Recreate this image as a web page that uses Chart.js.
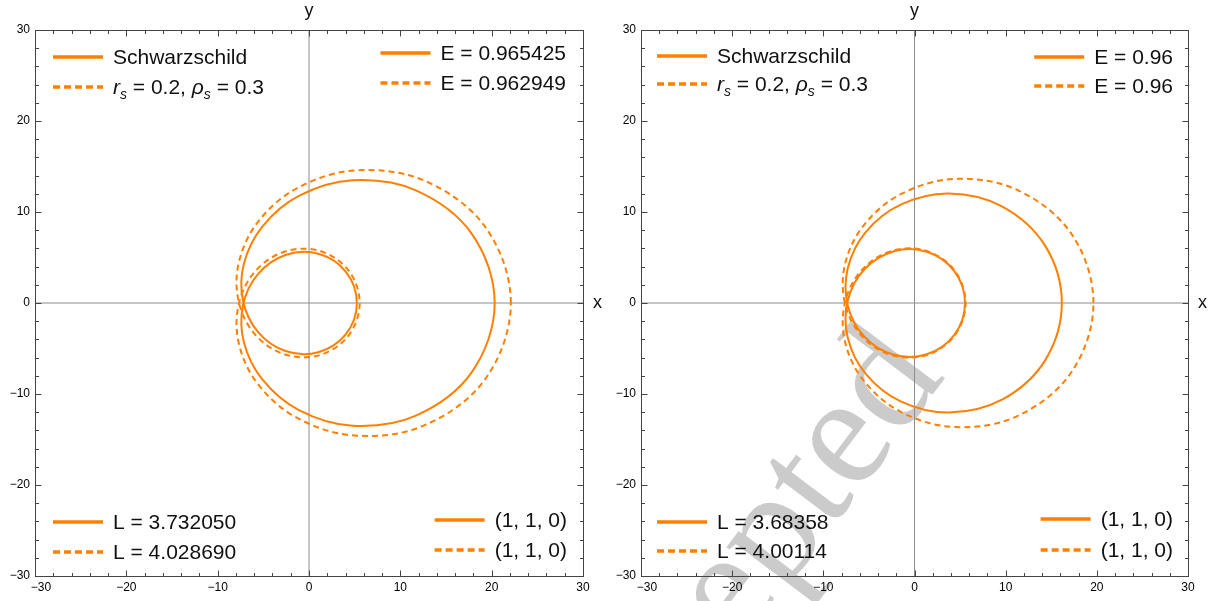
<!DOCTYPE html>
<html>
<head>
<meta charset="utf-8">
<script src="https://cdn.jsdelivr.net/npm/chart.js@4"></script>
<style>
  html, body { margin: 0; padding: 0; background: #fff; }
  #wrap { position: relative; width: 1218px; height: 601px; overflow: hidden; }
  canvas { position: absolute; top: 0; }
</style>
</head>
<body>
<div id="wrap">
  <canvas id="leftPanel" width="609" height="601" style="left:0"></canvas>
  <canvas id="rightPanel" width="609" height="601" style="left:609px"></canvas>
</div>
<script>
// ---- axes ----
const axisMin = -30;
const axisMax = 30;
const tickValues = [-30, -20, -10, 0, 10, 20, 30];
const minorStep = 2;

// ---- orbits, (x, y) points along each (1,1,0) zoom-whirl orbit ----
// first and last entries repeat the neighbours of the closing point so the curve closes smoothly
const leftSchwarzschild = [
  [17.81, -7.62],
  [20.33, 0], [17.81, 7.62], [11.71, 12.37], [4.76, 13.48], [-1.11, 11.76], [-5.11, 8.39],
  [-7.13, 4.31], [-7.22, 0.22], [-5.57, -3.20], [-2.57, -5.28], [1.02, -5.41], [4.04, -3.43],
  [5.24, 0],
  [4.04, 3.43], [1.02, 5.41], [-2.57, 5.28], [-5.57, 3.20], [-7.22, -0.22], [-7.13, -4.31],
  [-5.11, -8.39], [-1.11, -11.76], [4.76, -13.48], [11.71, -12.37], [17.81, -7.62], [20.33, 0],
  [17.81, 7.62]
];
const leftHalo = [
  [19.30, -8.35],
  [22.10, 0], [19.30, 8.35], [12.55, 13.48], [4.94, 14.56], [-1.38, 12.58], [-5.63, 8.86],
  [-7.69, 4.42], [-7.68, 0.06], [-5.84, -3.54], [-2.61, -5.66], [1.19, -5.72], [4.32, -3.59],
  [5.55, 0],
  [4.32, 3.59], [1.19, 5.72], [-2.61, 5.66], [-5.84, 3.54], [-7.68, -0.06], [-7.69, -4.42],
  [-5.63, -8.86], [-1.38, -12.58], [4.94, -14.56], [12.55, -13.48], [19.30, -8.35], [22.10, 0],
  [19.30, 8.35]
];
const rightSchwarzschild = [
  [14.31, -6.33],
  [16.16, 0], [14.31, 6.33], [9.59, 10.63], [3.78, 12.04], [-1.52, 10.81], [-5.35, 7.79],
  [-7.32, 3.82], [-7.32, -0.27], [-5.52, -3.68], [-2.34, -5.66], [1.35, -5.64], [4.37, -3.51],
  [5.54, 0],
  [4.37, 3.51], [1.35, 5.64], [-2.34, 5.66], [-5.52, 3.68], [-7.32, 0.27], [-7.32, -3.82],
  [-5.35, -7.79], [-1.52, -10.81], [3.78, -12.04], [9.59, -10.63], [14.31, -6.33], [16.16, 0],
  [14.31, 6.33]
];
const rightHalo = [
  [17.26, -7.53],
  [19.63, 0], [17.26, 7.53], [11.37, 12.38], [4.49, 13.64], [-1.47, 11.98], [-5.59, 8.51],
  [-7.63, 4.22], [-7.62, -0.08], [-5.77, -3.64], [-2.52, -5.72], [1.27, -5.74], [4.39, -3.59],
  [5.60, 0],
  [4.39, 3.59], [1.27, 5.74], [-2.52, 5.72], [-5.77, 3.64], [-7.62, 0.08], [-7.63, -4.22],
  [-5.59, -8.51], [-1.47, -11.98], [4.49, -13.64], [11.37, -12.38], [17.26, -7.53], [19.63, 0],
  [17.26, 7.53]
];

// ---- legend texts (solid row, dashed row) ----
// rich runs: '' plain, 'i' italic, 'sub' italic subscript
const haloLabel = [['r', 'i'], ['s', 'sub'], [' = 0.2, ', ''], ['\u03C1', 'i'], ['s', 'sub'], [' = 0.3', '']];
const modelLabels = ['Schwarzschild', haloLabel];
const energyLeft = ['E = 0.965425', 'E = 0.962949'];
const momentumLeft = ['L = 3.732050', 'L = 4.028690'];
const energyRight = ['E = 0.96', 'E = 0.96'];
const momentumRight = ['L = 3.68358', 'L = 4.00114'];
const orbitCodes = ['(1, 1, 0)', '(1, 1, 0)'];

// ---- styling ----
const ORANGE = '#ff8000';
const FAMILY = "'Liberation Sans', Arial, sans-serif";
const BASE_FONT = '21px ' + FAMILY;
const ITALIC_FONT = 'italic 21px ' + FAMILY;
const SUB_FONT = 'italic 14px ' + FAMILY;
const CANVAS_W = 609, CANVAS_H = 601;

const fmtTick = v => (v < 0 ? '\u2212' + (-v) : String(v));

function runsOf(label) { return typeof label === 'string' ? [[label, '']] : label; }
function fontFor(kind) { return kind === 'sub' ? SUB_FONT : (kind === 'i' ? ITALIC_FONT : BASE_FONT); }
function measureRuns(ctx, runs) {
  let w = 0;
  for (const [t, k] of runs) { ctx.font = fontFor(k); w += ctx.measureText(t).width; }
  return w;
}
function drawRuns(ctx, runs, x, baseline) {
  let cx = x;
  for (const [t, k] of runs) {
    ctx.font = fontFor(k);
    ctx.fillText(t, cx, baseline + (k === 'sub' ? 5 : 0));
    cx += ctx.measureText(t).width;
  }
}

function drawLegendBlock(ctx, area, block) {
  block.labels.forEach((label, i) => {
    const runs = runsOf(label);
    const y = block.rows[i];
    let x1, x2, tx;
    if (block.side === 'left') {
      x1 = area.left + block.inset; x2 = x1 + 50; tx = x2 + 10;
    } else {
      const w = measureRuns(ctx, runs);
      tx = area.right - block.inset - w; x2 = tx - 10; x1 = x2 - 50;
    }
    ctx.save();
    ctx.strokeStyle = ORANGE;
    ctx.lineWidth = 3.5;
    ctx.setLineDash(i === 1 ? [7, 4] : []);
    ctx.beginPath(); ctx.moveTo(x1, y); ctx.lineTo(x2, y); ctx.stroke();
    ctx.restore();
    ctx.fillStyle = '#111';
    ctx.textAlign = 'left';
    ctx.textBaseline = 'alphabetic';
    drawRuns(ctx, runs, tx, y + 7);
  });
}

function orbitDataset(points, dashed) {
  const last = points.length - 1;
  return {
    data: points.map(([x, y]) => ({ x, y })),
    showLine: true,
    pointRadius: 0,
    borderColor: ORANGE,
    borderWidth: 2,
    borderDash: dashed ? [6, 4] : [],
    tension: 0.35,
    segment: {
      borderColor: c => (c.p0DataIndex === 0 || c.p1DataIndex === last) ? 'rgba(0,0,0,0)' : ORANGE
    }
  };
}

function panelPlugin(panel) {
  return {
    id: 'panelDecor',
    beforeDraw(chart) {
      if (!panel.stamp) return;
      const ctx = chart.ctx, s = panel.stamp;
      ctx.save();
      ctx.translate(s.x, s.y);
      ctx.rotate(s.angle * Math.PI / 180);
      ctx.font = s.size + "px 'Liberation Serif', 'DejaVu Serif', serif";
      ctx.fillStyle = '#cbcbcb';
      ctx.textBaseline = 'alphabetic';
      ctx.fillText(s.text, 0, 0);
      ctx.restore();
    },
    beforeDatasetsDraw(chart) {
      const { ctx, chartArea: a, scales: { x, y } } = chart;
      const x0 = x.getPixelForValue(0), y0 = y.getPixelForValue(0);
      ctx.save();
      ctx.strokeStyle = '#8c8c8c';
      ctx.lineWidth = 1;
      ctx.beginPath();
      ctx.moveTo(x0, a.top); ctx.lineTo(x0, a.bottom);
      ctx.moveTo(a.left, y0); ctx.lineTo(a.right, y0);
      ctx.stroke();
      ctx.restore();
    },
    afterDatasetsDraw(chart) {
      const { ctx, chartArea: a, scales: { x, y } } = chart;
      ctx.save();
      // frame
      const L = Math.round(a.left) + 0.5, R = Math.round(a.right) + 0.5;
      const T = Math.round(a.top) + 0.5, B = Math.round(a.bottom) + 0.5;
      ctx.strokeStyle = '#444';
      ctx.lineWidth = 1;
      ctx.strokeRect(L, T, R - L, B - T);
      // inward ticks on all four sides
      ctx.beginPath();
      for (let v = axisMin; v <= axisMax; v += minorStep) {
        const len = v % 10 === 0 ? 6 : 3.5;
        const px = Math.round(x.getPixelForValue(v)) + 0.5;
        const py = Math.round(y.getPixelForValue(v)) + 0.5;
        ctx.moveTo(px, B); ctx.lineTo(px, B - len);
        ctx.moveTo(px, T); ctx.lineTo(px, T + len);
        ctx.moveTo(L, py); ctx.lineTo(L + len, py);
        ctx.moveTo(R, py); ctx.lineTo(R - len, py);
      }
      ctx.stroke();
      // axis names
      ctx.fillStyle = '#111';
      ctx.font = '18px ' + FAMILY;
      ctx.textBaseline = 'alphabetic';
      ctx.textAlign = 'center';
      ctx.fillText('y', x.getPixelForValue(0), a.top - 14);
      ctx.textAlign = 'left';
      ctx.fillText('x', a.right + 10, y.getPixelForValue(0) + 5);
      ctx.restore();
      // legends
      ctx.save();
      panel.legends.forEach(block => drawLegendBlock(ctx, a, block));
      ctx.restore();
    }
  };
}

function makePanel(canvasId, panel) {
  const area = panel.area;
  const tickFont = { family: FAMILY, size: 12 };
  const setTicks = s => { s.ticks = tickValues.map(v => ({ value: v })); };
  return new Chart(document.getElementById(canvasId), {
    type: 'scatter',
    data: { datasets: [orbitDataset(panel.orbits[0], false), orbitDataset(panel.orbits[1], true)] },
    options: {
      responsive: false,
      animation: false,
      devicePixelRatio: 1,
      events: [],
      layout: { padding: { left: 0, top: area.top, right: CANVAS_W - area.right, bottom: 0 } },
      plugins: { legend: { display: false }, tooltip: { enabled: false } },
      scales: {
        x: {
          type: 'linear', position: 'bottom', min: axisMin, max: axisMax,
          grid: { display: false, drawTicks: false }, border: { display: false },
          afterBuildTicks: setTicks,
          afterFit: s => { s.height = CANVAS_H - area.bottom; },
          ticks: {
            padding: 4, maxRotation: 0, autoSkip: false, color: '#000', font: tickFont,
            // first label nudged right, clear of the y labels
            callback: v => (v === tickValues[0] ? '\u2003' : '') + fmtTick(v)
          }
        },
        y: {
          type: 'linear', position: 'left', min: axisMin, max: axisMax,
          grid: { display: false, drawTicks: false }, border: { display: false },
          afterBuildTicks: setTicks,
          afterFit: s => { s.width = area.left; },
          ticks: { padding: 5, autoSkip: false, color: '#000', font: tickFont, callback: v => fmtTick(v) }
        }
      }
    },
    plugins: [panelPlugin(panel)]
  });
}

makePanel('leftPanel', {
  area: { left: 35, right: 583, top: 30, bottom: 576 },
  orbits: [leftSchwarzschild, leftHalo],
  legends: [
    { side: 'left', inset: 18, rows: [57, 87], labels: modelLabels },
    { side: 'right', inset: 17, rows: [53, 83], labels: energyLeft },
    { side: 'left', inset: 18, rows: [522, 552], labels: momentumLeft },
    { side: 'right', inset: 16, rows: [520, 550], labels: orbitCodes }
  ]
});

makePanel('rightPanel', {
  area: { left: 32, right: 579, top: 30, bottom: 576 },
  orbits: [rightSchwarzschild, rightHalo],
  legends: [
    { side: 'left', inset: 16, rows: [56, 84], labels: modelLabels },
    { side: 'right', inset: 15, rows: [57, 86], labels: energyRight },
    { side: 'left', inset: 16, rows: [522, 551], labels: momentumRight },
    { side: 'right', inset: 15, rows: [519, 550], labels: orbitCodes }
  ],
  stamp: { text: 'Accepted', x: -22, y: 853, angle: -53, size: 158 }
});
</script>
</body>
</html>
